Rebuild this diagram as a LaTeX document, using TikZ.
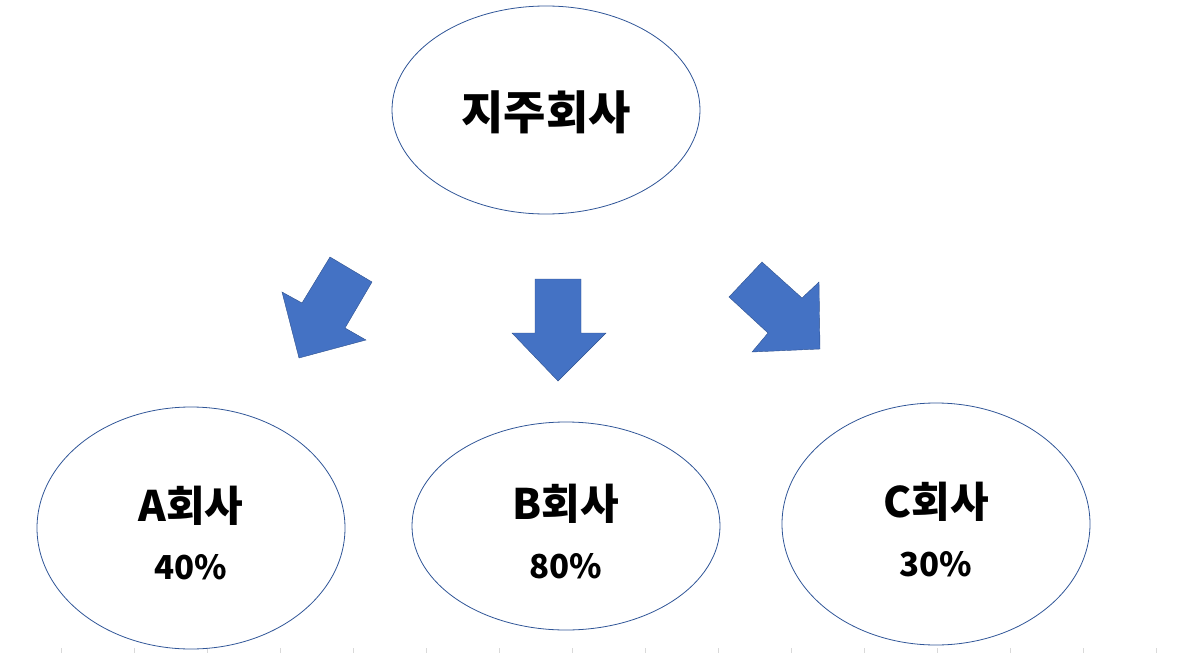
\documentclass[tikz,border=0pt]{standalone}
\usepackage{fontspec}
\usetikzlibrary{shapes.geometric}
\newfontfamily\krfont{Noto Sans CJK KR}
\definecolor{orgline}{HTML}{2F5597}
\definecolor{arrowfill}{HTML}{4472C4}
\definecolor{arrowedge}{HTML}{2F528F}
\definecolor{gridtick}{HTML}{D9D9D9}

\begin{document}
\begin{tikzpicture}[x=1pt, y=-1pt,
                    every node/.style={font=\krfont\bfseries},
                    company/.style={ellipse, draw=orgline, line width=0.8pt,
                                    minimum width=308pt, inner sep=0pt},
                    compname/.style={font=\krfont\bfseries\fontsize{42}{48}\selectfont},
                    compshare/.style={font=\krfont\bfseries\fontsize{33}{40}\selectfont},
                    blockarrow/.style={fill=arrowfill, draw=arrowedge, line width=0.4pt}]

  \useasboundingbox (0,0) rectangle (1181,653);

  %% 아래쪽 눈금 흔적
  \foreach \tx in {61,134,...,1160}
    \draw[gridtick, line width=0.5pt] (\tx,648) -- (\tx,653);

  %% 지주회사
  \node[company, minimum height=208pt] (holding) at (546,110) {};
  \node[font=\krfont\bfseries\fontsize{46}{52}\selectfont] (holdingname) at (546,112) {지주회사};

  %% 자회사 세 개
  \node[company, minimum height=242pt] (compA) at (191,528) {};
  \node[company, minimum height=208pt] (compB) at (566,526) {};
  \node[company, minimum height=242pt] (compC) at (936,524) {};

  \node[compname] (nameA) at (191,506) {A회사};
  \node[compshare] (shareA) at (191,567) {40\%};
  \node[compname] (nameB) at (566,504) {B회사};
  \node[compshare] (shareB) at (566,566) {80\%};
  \node[compname] (nameC) at (936,502) {C회사};
  \node[compshare] (shareC) at (936,564) {30\%};

  %% 블록 화살표 (왼쪽 아래, 아래, 오른쪽 아래)
  \draw[blockarrow] (330,257) -- (372,282) -- (345,328) -- (366,340)
    -- (299,358) -- (282,292) -- (302,303) -- cycle;
  \draw[blockarrow] (535,279) -- (581,279) -- (581,333) -- (606,333)
    -- (558,381) -- (512,333) -- (535,333) -- cycle;
  \draw[blockarrow] (762,262) -- (802,298) -- (819,282) -- (820,349)
    -- (752,352) -- (768,333) -- (729,297) -- cycle;

\end{tikzpicture}
\end{document}
